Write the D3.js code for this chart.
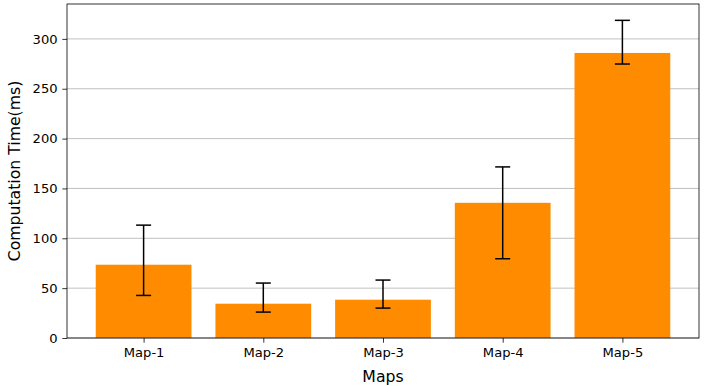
<!DOCTYPE html>
<html><head><meta charset="utf-8">
<script src="https://cdn.jsdelivr.net/npm/d3@7"></script>
<style>body{margin:0;background:#fff;} svg{display:block;font-family:"DejaVu Sans",sans-serif;}</style>
</head><body>
<svg id="c" width="705" height="386"></svg>
<script>
const categories = ["Map-1","Map-2","Map-3","Map-4","Map-5"];
const means = [73.5, 34.4, 38.4, 135.6, 285.9];
const errLow = [42.7, 26.0, 30.0, 79.5, 274.8];
const errHigh = [113.2, 55.1, 58.1, 171.6, 318.6];
const yTicks = [0, 50, 100, 150, 200, 250, 300];

const svg = d3.select("#c");
const L = 67, R = 699, T = 4, B = 338;
const x = d3.scaleLinear().domain([-0.64, 4.64]).range([L, R]);
const y = d3.scaleLinear().domain([0, 335]).range([B, T]);
const bw = x(0.8) - x(0);

// grid
svg.append("g").selectAll("line").data(yTicks).join("line")
  .attr("x1", L).attr("x2", R)
  .attr("y1", d => y(d)).attr("y2", d => y(d))
  .attr("stroke", "#b0b0b0").attr("stroke-width", 0.8);

// bars
svg.append("g").selectAll("rect").data(means).join("rect")
  .attr("x", (d, i) => x(i) - bw / 2).attr("width", bw)
  .attr("y", d => y(d)).attr("height", d => B - y(d))
  .attr("fill", "#ff8c00");

// error bars
const eb = svg.append("g").attr("stroke", "#000").attr("stroke-width", 1.5);
categories.forEach((c, i) => {
  const cx = x(i);
  eb.append("line").attr("x1", cx).attr("x2", cx).attr("y1", y(errLow[i])).attr("y2", y(errHigh[i]));
  eb.append("line").attr("x1", cx - 7.5).attr("x2", cx + 7.5).attr("y1", y(errLow[i])).attr("y2", y(errLow[i]));
  eb.append("line").attr("x1", cx - 7.5).attr("x2", cx + 7.5).attr("y1", y(errHigh[i])).attr("y2", y(errHigh[i]));
});

// axes
const xa = d3.axisBottom(x).tickValues(d3.range(categories.length))
  .tickFormat(i => categories[i]).tickSizeOuter(0).tickSize(4.7).tickPadding(4.7);
const gx = svg.append("g").attr("transform", `translate(0,${B})`).call(xa);
const ya = d3.axisLeft(y).tickValues(yTicks).tickSizeOuter(0).tickSize(4.7).tickPadding(4.7);
const gy = svg.append("g").attr("transform", `translate(${L},0)`).call(ya);
[gx, gy].forEach(g => {
  g.select(".domain").remove();
  g.selectAll("text").attr("font-size", "13.1px").attr("font-family", "DejaVu Sans").attr("fill", "#000");
  g.selectAll("line").attr("stroke", "#000").attr("stroke-width", 0.8);
});

// frame
svg.append("rect").attr("x", L).attr("y", T).attr("width", R - L).attr("height", B - T)
  .attr("fill", "none").attr("stroke", "#000").attr("stroke-width", 0.8);

// labels
svg.append("text").attr("x", (L + R) / 2).attr("y", 382).attr("text-anchor", "middle")
  .attr("font-size", "15.7px").text("Maps");
svg.append("text").attr("transform", `translate(20,${(T + B) / 2}) rotate(-90)`)
  .attr("text-anchor", "middle").attr("font-size", "15.7px").text("Computation Time(ms)");
</script>
</body></html>
